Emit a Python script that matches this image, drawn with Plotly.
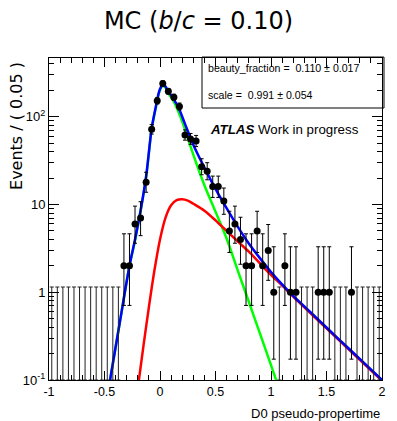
import math
import plotly.graph_objects as go

# ---------------- data ----------------
x_range = [-1.0, 2.0]
n_bins = 60
counts = [0] * 13 + [
    2, 2, 6, 7, 18, 72, 152, 240, 195, 167, 131, 62, 56, 53, 27, 24, 16, 16,
    11, 5, 6, 4, 2, 2, 5, 2, 3, 1, 0, 2, 1, 1, 0, 0, 0, 1, 1, 1, 0, 0, 0, 1,
    0, 0, 0, 0, 0]

# fit curves (x, y)
total_x = [-0.45, -0.36, -0.275, -0.225, -0.175, -0.125, -0.075, -0.04, -0.01,
           0.01, 0.025, 0.05, 0.075, 0.1, 0.125, 0.175, 0.225, 0.3, 0.4, 0.5,
           0.6, 0.7, 0.8, 0.9, 1.0, 1.1, 1.2, 1.4, 1.6, 1.8, 2.0]
total_y = [0.1, 0.47, 2.0, 4.0, 8.5, 21, 74, 126, 190,
           221, 234, 221, 195, 176, 158, 120, 83, 48, 26.3, 15.1,
           9.1, 5.6, 3.6, 2.45, 1.7, 1.23, 0.91, 0.525, 0.30, 0.174, 0.1]

charm_x = [-0.45, -0.36, -0.275, -0.225, -0.175, -0.125, -0.075, -0.04, -0.01,
           0.01, 0.025, 0.05, 0.075, 0.1, 0.125, 0.175, 0.225, 0.3, 0.4, 0.5,
           0.6, 0.7, 0.8, 0.9, 1.0, 1.06]
charm_y = [0.1, 0.47, 2.0, 3.9, 8.5, 20.4, 72.4, 123, 186,
           214, 226, 214, 186, 166, 148, 107, 72, 37, 16.6, 8.3,
           4.1, 1.78, 0.78, 0.34, 0.148, 0.089]

beauty_x = [-0.19, -0.15, -0.1, -0.05, 0.0, 0.05, 0.1, 0.15, 0.2, 0.25, 0.3,
            0.4, 0.5, 0.6, 0.7, 0.8, 0.9, 1.0, 1.1, 1.2, 1.4, 1.6, 1.8, 2.0]
beauty_y = [0.1, 0.24, 0.68, 1.78, 4.0, 7.1, 9.8, 11.2, 11.5, 11.1, 10.2,
            8.5, 6.6, 5.0, 3.8, 2.9, 2.14, 1.58, 1.2, 0.89, 0.51, 0.295, 0.17, 0.098]

x_tick_vals = [-1, -0.5, 0, 0.5, 1, 1.5, 2]
x_tick_text = ["-1", "-0.5", "0", "0.5", "1", "1.5", "2"]
y_tick_vals = [0.1, 1, 10, 100]
y_tick_text = ["10<sup>-1</sup>", "1", "10", "10<sup>2</sup>"]
y_log_range = [-1, 2.67]

title_text = "MC (<i>b</i>/<i>c</i> = 0.10)"
box_lines = ["beauty_fraction =  0.110 ± 0.017", "scale =  0.991 ± 0.054"]

# ---------------- helpers ----------------
width = (x_range[1] - x_range[0]) / n_bins
centers = [x_range[0] + (i + 0.5) * width for i in range(n_bins)]


def pois_cdf(k, mu):
    term = math.exp(-mu)
    s = term
    for i in range(1, k + 1):
        term *= mu / i
        s += term
    return s


def bisect(f, a, b, it=80):
    fa = f(a)
    for _ in range(it):
        m = 0.5 * (a + b)
        fm = f(m)
        if (fm > 0) == (fa > 0):
            a, fa = m, fm
        else:
            b = m
    return 0.5 * (a + b)


alpha = 0.5 * (1 - 0.682689)


def interval(n):
    if n == 0:
        return 0.0, -math.log(1 - 0.682689)
    lo = bisect(lambda m: 1 - pois_cdf(n - 1, m) - alpha, 0.0, float(n))
    hi = bisect(lambda m: pois_cdf(n, m) - alpha, float(n), n + 10 * math.sqrt(n) + 10)
    return lo, hi


ymin = 10 ** y_log_range[0]
nz_x, nz_y, nz_up, nz_dn = [], [], [], []
z_x, z_y, z_dn = [], [], []
for c, n in zip(centers, counts):
    lo, hi = interval(n)
    if n > 0:
        nz_x.append(c)
        nz_y.append(n)
        nz_up.append(hi - n)
        nz_dn.append(n - max(lo, ymin))
    else:
        z_x.append(c)
        z_y.append(hi)
        z_dn.append(hi - ymin)

fig = go.Figure()

# curves
fig.add_trace(go.Scatter(x=charm_x, y=charm_y, mode="lines",
                         line=dict(color="#00ff00", width=2.5, shape="spline", smoothing=0.8),
                         hoverinfo="skip"))
fig.add_trace(go.Scatter(x=beauty_x, y=beauty_y, mode="lines",
                         line=dict(color="#ff0000", width=2.5, shape="spline", smoothing=0.8),
                         hoverinfo="skip"))
fig.add_trace(go.Scatter(x=total_x, y=total_y, mode="lines",
                         line=dict(color="#0000ff", width=2.5, shape="spline", smoothing=0.8),
                         hoverinfo="skip"))

# empty bins: Poisson upper limit bars
fig.add_trace(go.Scatter(x=z_x, y=z_y, mode="markers",
                         marker=dict(size=1, color="rgba(0,0,0,0)"),
                         error_y=dict(type="data", symmetric=False,
                                      array=[0] * len(z_x), arrayminus=z_dn,
                                      color="#222222", thickness=1, width=2),
                         hoverinfo="skip"))
# data points
fig.add_trace(go.Scatter(x=nz_x, y=nz_y, mode="markers",
                         marker=dict(size=7, color="black", symbol="circle"),
                         error_y=dict(type="data", symmetric=False,
                                      array=nz_up, arrayminus=nz_dn,
                                      color="black", thickness=1, width=2),
                         error_x=dict(type="constant", value=width / 2,
                                      color="black", thickness=1, width=0)))

sans = "Liberation Sans, Arial, sans-serif"
tick_font = dict(family=sans, size=12.5, color="black")

fig.update_layout(
    width=397, height=421,
    margin=dict(l=49, r=15, t=58, b=41),
    paper_bgcolor="white", plot_bgcolor="white",
    showlegend=False,
    title=dict(text=title_text, x=0.5, xref="container", xanchor="center",
               y=1 - 21 / 421, yref="container", yanchor="middle",
               font=dict(family="DejaVu Sans", size=24, color="black")),
    xaxis=dict(range=x_range, showgrid=False, zeroline=False,
               showline=True, linecolor="black", linewidth=1, mirror="ticks",
               ticks="inside", ticklen=9, tickwidth=1, tickcolor="black",
               tickmode="array", tickvals=x_tick_vals, ticktext=x_tick_text,
               tickfont=tick_font,
               minor=dict(ticks="inside", ticklen=5, tickwidth=1, tickcolor="black",
                          dtick=0.1, tick0=0, showgrid=False)),
    yaxis=dict(type="log", range=y_log_range, showgrid=False, zeroline=False,
               showline=True, linecolor="black", linewidth=1, mirror="ticks",
               ticks="inside", ticklen=10, tickwidth=1, tickcolor="black",
               tickmode="array", tickvals=y_tick_vals, ticktext=y_tick_text,
               tickfont=dict(family=sans, size=13, color="black"),
               minor=dict(ticks="inside", ticklen=5, tickwidth=1, tickcolor="black",
                          tickmode="array",
                          tickvals=[0.2, 0.3, 0.4, 0.5, 0.6, 0.7, 0.8, 0.9,
                                    2, 3, 4, 5, 6, 7, 8, 9,
                                    20, 30, 40, 50, 60, 70, 80, 90,
                                    200, 300, 400],
                          showgrid=False)),
)

# axis titles
fig.add_annotation(text="Events / ( 0.05 )", xref="paper", yref="paper",
                   x=-0.096, y=0.994, xanchor="center", yanchor="top",
                   textangle=-90, showarrow=False,
                   font=dict(family="DejaVu Sans", size=16, color="black"))
fig.add_annotation(text="D0 pseudo-propertime", xref="paper", yref="paper",
                   x=1.0, y=-0.1025, xanchor="right", yanchor="middle",
                   showarrow=False, font=dict(family=sans, size=13, color="black"))

# stats box
fig.add_shape(type="rect", xref="paper", yref="paper",
              x0=0.4595, x1=1.006, y0=0.8447, y1=1.003,
              line=dict(color="black", width=1), fillcolor="rgba(0,0,0,0)")
fig.add_annotation(text=box_lines[0], xref="paper", yref="paper",
                   x=0.4715, y=0.969, xanchor="left", yanchor="middle",
                   showarrow=False, font=dict(family=sans, size=10.6, color="black"))
fig.add_annotation(text=box_lines[1], xref="paper", yref="paper",
                   x=0.4715, y=0.885, xanchor="left", yanchor="middle",
                   showarrow=False, font=dict(family=sans, size=10.6, color="black"))

# ATLAS label
fig.add_annotation(text="<b><i>ATLAS</i></b> Work in progress", xref="paper", yref="paper",
                   x=0.4775, y=0.7764, xanchor="left", yanchor="middle",
                   showarrow=False, font=dict(family=sans, size=13.3, color="black"))

fig.write_html("out.html")
